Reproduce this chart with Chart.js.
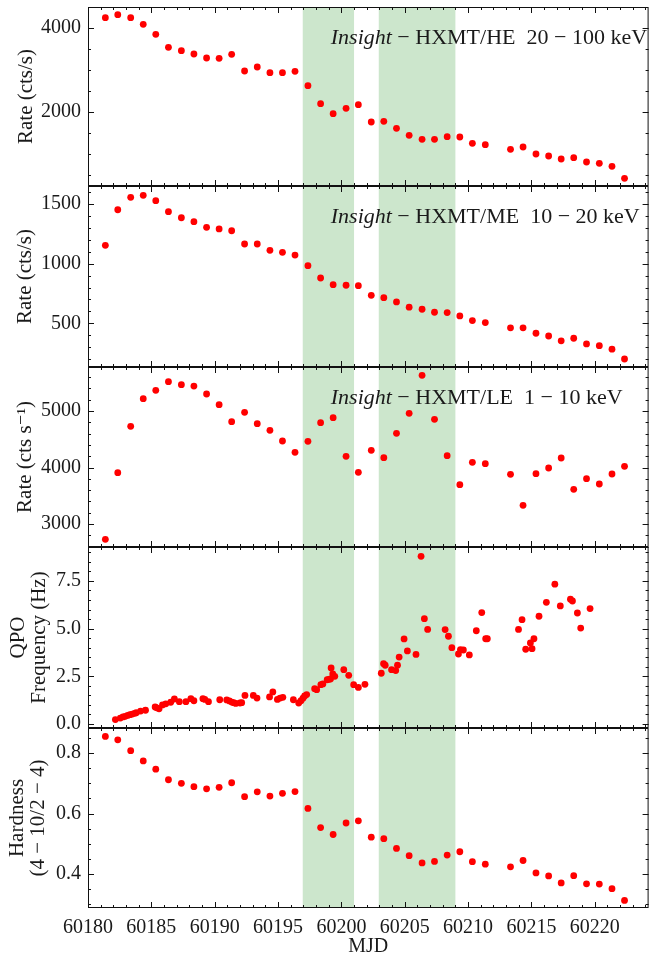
<!DOCTYPE html>
<html><head><meta charset="utf-8">
<script src="https://cdn.jsdelivr.net/npm/chart.js@4.4.0/dist/chart.umd.min.js"></script>
<style>
html,body{margin:0;padding:0;background:#fff;}
body{width:652px;height:954px;position:relative;overflow:hidden;}
canvas{position:absolute;left:0;}
</style></head><body>
<canvas id="c1"></canvas><canvas id="c2"></canvas><canvas id="c3"></canvas><canvas id="c4"></canvas><canvas id="c5"></canvas>
<script>
// ---- data ----
const mjd = [60181.37,60182.35,60183.37,60184.36,60185.35,60186.35,60187.37,60188.36,60189.36,60190.35,
  60191.34,60192.36,60193.36,60194.36,60195.35,60196.34,60197.36,60198.36,60199.35,60200.37,
  60201.34,60202.36,60203.35,60204.35,60205.35,60206.37,60207.35,60208.35,60209.35,60210.34,
  60211.36,60213.35,60214.34,60215.36,60216.36,60217.35,60218.34,60219.35,60220.36,60221.36,60222.35];
const heRate = [4238,4310,4238,4081,3843,3533,3452,3374,3279,3271,3365,2969,3064,2929,2929,2962,2619,2190,
  1952,2081,2167,1755,1771,1605,1438,1343,1343,1405,1398,1248,1214,1105,1160,993,945,874,905,802,771,700,414];
const meRate = [1154,1452,1556,1573,1528,1436,1385,1352,1305,1291,1276,1165,1165,1112,1095,1072,983,880,
  824,819,816,735,715,679,635,618,593,590,562,523,506,462,462,417,394,353,375,327,313,283,201];
const leRate = [2729,3908,4729,5218,5366,5519,5466,5442,5301,5112,4811,4976,4775,4658,4469,4268,4463,4794,
  4882,4198,3915,4304,4174,4605,4959,5632,4853,4209,3696,4092,4068,3879,3331,3890,3991,4168,3614,3802,3708,3885,4021];
const hardness = [0.855,0.844,0.808,0.774,0.747,0.712,0.700,0.689,0.682,0.687,0.702,0.656,0.672,0.658,0.667,0.673,0.617,0.554,
  0.531,0.569,0.576,0.522,0.517,0.485,0.461,0.437,0.442,0.463,0.474,0.441,0.433,0.424,0.445,0.404,0.394,0.371,0.395,0.368,0.367,0.352,0.313];
const qpoMjd = [60182.16,60182.55,60182.76,60182.94,60183.13,60183.31,60183.49,60183.68,60183.81,60184.15,
  60184.54,60185.30,60185.43,60185.61,60185.88,60186.14,60186.53,60186.82,60187.21,60187.73,
  60188.12,60188.36,60189.07,60189.22,60189.51,60190.40,60190.95,60191.16,60191.34,60191.50,
  60191.66,60192.00,60192.13,60192.39,60193.05,60193.34,60194.33,60194.59,60194.95,60195.16,
  60195.38,60196.21,60196.63,60196.81,60196.97,60197.10,60197.26,60197.89,60198.05,60198.38,
  60198.54,60198.88,60199.01,60199.14,60199.19,60199.32,60199.48,60200.19,60200.58,60200.97,
  60201.34,60201.86,60203.15,60203.33,60203.46,60203.96,60204.29,60204.43,60204.56,60204.95,
  60205.21,60205.89,60206.29,60206.55,60206.81,60208.19,60208.45,60208.72,60209.24,60209.40,
  60209.63,60210.10,60210.65,60211.08,60211.39,60211.52,60213.98,60214.26,60214.55,60214.92,
  60215.05,60215.20,60215.60,60216.18,60216.85,60217.28,60218.08,60218.24,60218.63,60218.89,60219.63];
const qpoFreq = [0.23,0.31,0.37,0.40,0.45,0.49,0.52,0.56,0.59,0.68,
  0.72,0.89,0.85,0.80,1.00,1.06,1.14,1.31,1.17,1.17,
  1.33,1.22,1.33,1.29,1.17,1.27,1.26,1.21,1.15,1.12,
  1.08,1.10,1.12,1.50,1.50,1.36,1.42,1.68,1.29,1.36,
  1.40,1.27,1.10,1.22,1.35,1.47,1.54,1.85,1.80,2.06,
  2.10,2.32,2.34,2.36,2.94,2.62,2.50,2.85,2.55,2.06,
  1.92,2.08,2.66,3.16,3.08,2.85,2.80,3.08,3.51,4.46,
  3.83,3.65,8.79,5.52,4.96,4.95,4.60,4.00,3.67,3.90,
  3.88,3.62,4.89,5.84,4.47,4.47,4.96,5.47,3.92,4.25,
  3.95,4.47,5.65,6.38,7.33,6.19,6.54,6.45,5.82,5.03,6.05];
const shadedBands = [[60196.95, 60201.0], [60202.95, 60209.0]];
const xMin = 60180, xMax = 60224.25;
const xMajorStep = 5, xMinorStep = 1;
const xTickLabels = [60180, 60185, 60190, 60195, 60200, 60205, 60210, 60215, 60220];
const heTicks = [2000, 4000];
const meTicks = [500, 1000, 1500];
const leTicks = [3000, 4000, 5000];
const qpoTicks = [0, 2.5, 5, 7.5];
const hardTicks = [0.4, 0.6, 0.8];
const heLabel = ['Insight', ' \u2212 HXMT/HE  20 \u2212 100 keV'];
const meLabel = ['Insight', ' \u2212 HXMT/ME  10 \u2212 20 keV'];
const leLabel = ['Insight', ' \u2212 HXMT/LE  1 \u2212 10 keV'];

const FONT = "'Liberation Serif','DejaVu Serif',serif";
const TXT = '#1a1a1a';

function pts(xs, ys){ return xs.map((x,i)=>({x:x, y:ys[i]})); }

const panels = [
  {id:'c1', data:pts(mjd, heRate), yMin:231, yMax:4493, ticks:heTicks, major:2000, minor:500, dec:0, title:'Rate (cts/s)', tpad:16, ann:heLabel, top:7, bottom:186},
  {id:'c2', data:pts(mjd, meRate), yMin:134, yMax:1651, ticks:meTicks, major:500, minor:100, dec:0, title:'Rate (cts/s)', tpad:15, ann:meLabel, top:186, bottom:367},
  {id:'c3', data:pts(mjd, leRate), yMin:2593, yMax:5779, ticks:leTicks, major:1000, minor:200, dec:0, title:'Rate (cts s\u207B\u00B9)', tpad:15, ann:leLabel, top:367, bottom:547},
  {id:'c4', data:pts(qpoMjd, qpoFreq), yMin:-0.21, yMax:9.28, ticks:qpoTicks, major:2.5, minor:0.5, dec:1, title:['QPO','Frequency (Hz)'], tpad:8, ann:null, top:547, bottom:728},
  {id:'c5', data:pts(mjd, hardness), yMin:0.288, yMax:0.883, ticks:hardTicks, major:0.2, minor:0.05, dec:1, title:['Hardness','(4 \u2212 10/2 \u2212 4)'], tpad:7, ann:null, top:728, bottom:908, showX:true}
];

const framePlugin = {
  id:'frame',
  beforeDatasetsDraw(chart){
    const {ctx, chartArea:{left,right,top,bottom}} = chart;
    const xs = chart.scales.x;
    ctx.save();
    ctx.fillStyle = 'rgba(0,128,0,0.2)';
    shadedBands.forEach(b=>{
      const x0 = xs.getPixelForValue(b[0]), x1 = xs.getPixelForValue(b[1]);
      ctx.fillRect(x0, top, x1-x0, bottom-top);
    });
    ctx.restore();
  },
  afterDatasetsDraw(chart, args, opts){
    const {ctx, chartArea:{left,right,top,bottom}} = chart;
    const xs = chart.scales.x, ys = chart.scales.y;
    const p = opts.panel;
    ctx.save();
    ctx.strokeStyle = '#111'; ctx.lineWidth = 1;
    ctx.beginPath();
    for (let n = Math.ceil(xMin/xMinorStep); n*xMinorStep <= xMax; n++) {
      const v = n*xMinorStep;
      const px = Math.round(xs.getPixelForValue(v)) + 0.5;
      const L = (v % xMajorStep === 0) ? 6 : 3;
      ctx.moveTo(px, bottom); ctx.lineTo(px, bottom - L);
      ctx.moveTo(px, top); ctx.lineTo(px, top + L);
    }
    const ratio = Math.round(p.major / p.minor);
    for (let n = Math.ceil(p.yMin/p.minor - 1e-9); n*p.minor <= p.yMax + 1e-9; n++) {
      const py = Math.round(ys.getPixelForValue(n*p.minor)) + 0.5;
      const L = (n % ratio === 0) ? 6 : 3;
      ctx.moveTo(left, py); ctx.lineTo(left + L, py);
      ctx.moveTo(right, py); ctx.lineTo(right - L, py);
    }
    ctx.stroke();
    ctx.strokeRect(left + 0.5, top + 0.5, right - left - 1, bottom - top - 1);
    if (p.ann) {
      let x = left + 0.433*(right-left);
      const y = top + 37;
      ctx.fillStyle = TXT;
      ctx.textBaseline = 'alphabetic';
      ctx.font = "italic 22px " + FONT;
      ctx.fillText(p.ann[0], x, y);
      x += ctx.measureText(p.ann[0]).width;
      ctx.font = "22px " + FONT;
      ctx.fillText(p.ann[1], x, y);
    }
    ctx.restore();
  }
};

panels.forEach(p=>{
  const cv = document.getElementById(p.id);
  const cTop = p.top - 20;
  const cBottom = p.showX ? 954 : p.bottom + 20;
  cv.width = 652; cv.height = cBottom - cTop;
  cv.style.top = cTop + 'px';
  new Chart(cv, {
    type:'scatter',
    data:{datasets:[{data:p.data, pointRadius:3.4, pointHoverRadius:3.4, backgroundColor:'#ff0000', borderWidth:0, showLine:false}]},
    options:{
      responsive:false, animation:false, events:[],
      layout:{padding:{left:0, right:1, top:20, bottom: p.showX ? 0 : 20}},
      plugins:{legend:{display:false}, tooltip:{enabled:false}, frame:{panel:p}},
      scales:{
        x:{type:'linear', min:xMin, max:xMax, display: !!p.showX,
           grid:{display:false, drawTicks:false}, border:{display:false},
           afterBuildTicks:s=>{ s.ticks = xTickLabels.map(v=>({value:v})); },
           ticks:{autoSkip:false, maxRotation:0, padding:8, color:TXT,
                  font:{family:FONT, size:20}, callback:v=>String(v)},
           title:{display:true, text:'MJD', color:TXT, padding:{top:0,bottom:-3}, font:{family:FONT, size:20, lineHeight:1}},
           afterFit:s=>{ s.height = p.showX ? (954 - p.bottom) : 0; }},
        y:{type:'linear', min:p.yMin, max:p.yMax,
           grid:{display:false, drawTicks:false}, border:{display:false},
           afterBuildTicks:s=>{ s.ticks = p.ticks.map(v=>({value:v})); },
           ticks:{autoSkip:false, padding:7, color:TXT,
                  font:{family:FONT, size:20}, callback:v=>Number(v).toFixed(p.dec)},
           title:{display:true, text:p.title, color:TXT, padding:{top:p.tpad,bottom:0}, font:{family:FONT, size:21, lineHeight:1}},
           afterFit:s=>{ s.width = 88; }}
      }
    },
    plugins:[framePlugin]
  });
});
</script>
</body></html>
